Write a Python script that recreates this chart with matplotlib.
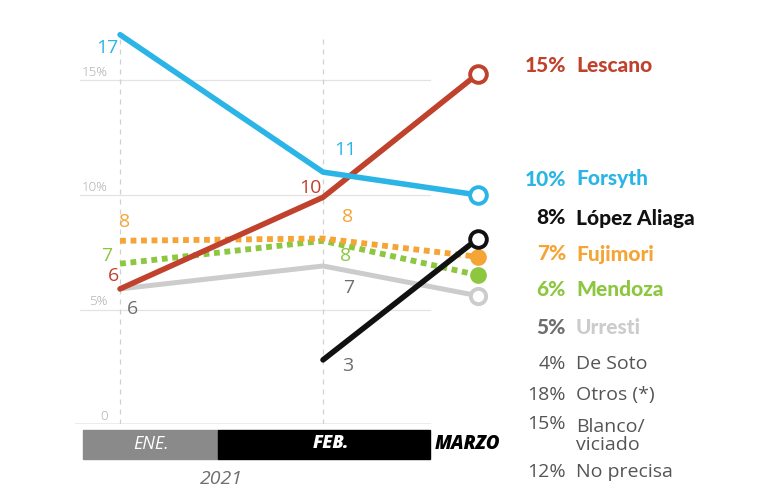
import matplotlib
matplotlib.use("Agg")
import matplotlib.pyplot as plt
from matplotlib.patches import Rectangle

W, H = 771, 499

# poll positions (ENE., FEB., MARZO) on a relative time axis
poll_x = [0.0, 1.0, 1.764]

forsyth = [17.0, 11.0, 10.0]
lescano = [5.9, 9.9, 15.3]
lopez_aliaga = [None, 2.8, 8.1]
fujimori = [8.0, 8.1, 7.3]
mendoza = [7.0, 8.0, 6.5]
urresti = [5.9, 6.9, 5.6]

# point labels shown on the chart
forsyth_lbl = ["17", "11", None]
lescano_lbl = ["6", "10", None]
lopez_lbl = [None, "3", None]
fujimori_lbl = ["8", "8", None]
mendoza_lbl = ["7", "8", None]
urresti_lbl = ["6", "7", None]

# final results list on the right
res_pct = ["15%", "10%", "8%", "7%", "6%", "5%", "4%", "18%", "15%", "12%"]
res_name = ["Lescano", "Forsyth", "López Aliaga", "Fujimori", "Mendoza", "Urresti",
            "De Soto", "Otros (*)", "Blanco/\nviciado", "No precisa"]

months = ["ENE.", "FEB.", "MARZO"]
year = "2021"
yticks = [0, 5, 10, 15]

BLUE = "#2bb5e6"
RED = "#c0412c"
BLACK = "#111111"
ORANGE = "#f5a436"
GREEN = "#8dc63f"
LGRAY = "#cccccc"
DGRAY = "#6e6e6e"


def fx(px):
    return px / W


def fy(py):
    return 1 - py / H


fig = plt.figure(figsize=(W / 100, H / 100), dpi=100)
fig.patch.set_facecolor("white")

# axes placed in pixel terms: x from 75 to 500, y from 20 to 424
ax = fig.add_axes([fx(75), fy(424), (500 - 75) / W, (424 - 20) / H])
ax.set_xlim(-0.222, 1.872)
ax.set_ylim(0, (424 - 20) / 22.9)
ax.axis("off")

# grid lines
xr = (430 - 120) / 203.0
for t in yticks[1:]:
    ax.plot([-0.197, xr], [t, t], color="#e3e3e3", lw=0.9, zorder=0)
    ax.text(-0.06, t + 0.05, f"{t}%", color="#a8a8a8", fontsize=9.5, ha="right",
            va="bottom", family="Open Sans", fontweight="light")
ax.plot([-0.222, xr], [0, 0], color="#a0a0a0", lw=1.0, zorder=0)
ax.text(-0.06, 0.05, "0", color="#a8a8a8", fontsize=9.5, ha="right", va="bottom",
        family="Open Sans", fontweight="light")
for xv in poll_x[:2]:
    ax.plot([xv, xv], [0, 16.9], color="#d0d0d0", lw=0.9, ls=(0, (4, 4)), zorder=0)

# lines
ax.plot(poll_x, urresti, color=LGRAY, lw=3.6, solid_capstyle="round", zorder=2)
ax.plot(poll_x, mendoza, color=GREEN, lw=4.2, ls=(0, (1.0, 0.8)), zorder=3)
ax.plot(poll_x, fujimori, color=ORANGE, lw=4.2, ls=(0, (1.0, 0.8)), zorder=3)
ax.plot(poll_x[1:], lopez_aliaga[1:], color=BLACK, lw=4.0, solid_capstyle="round", zorder=5)
ax.plot(poll_x, lescano, color=RED, lw=4.0, solid_capstyle="round", zorder=4)
ax.plot(poll_x, forsyth, color=BLUE, lw=4.0, solid_capstyle="round", zorder=4)

# end markers
ax.plot(poll_x[-1], urresti[-1], "o", ms=11, mfc="white", mec=LGRAY, mew=2.8, zorder=6)
ax.plot(poll_x[-1], mendoza[-1], "o", ms=11, mfc=GREEN, mec=GREEN, zorder=6)
ax.plot(poll_x[-1], fujimori[-1], "o", ms=11, mfc=ORANGE, mec=ORANGE, zorder=6)
ax.plot(poll_x[-1], lopez_aliaga[-1], "o", ms=12, mfc="white", mec=BLACK, mew=2.8, zorder=7)
ax.plot(poll_x[-1], forsyth[-1], "o", ms=12, mfc="white", mec=BLUE, mew=2.8, zorder=7)
ax.plot(poll_x[-1], lescano[-1], "o", ms=12, mfc="white", mec=RED, mew=2.8, zorder=7)

# point labels (pixel offsets)
lab_kw = dict(fontsize=14, family="Open Sans", ha="center", va="center", zorder=8)
ax.annotate(forsyth_lbl[0], (poll_x[0], forsyth[0]), xytext=(-13, -13),
            textcoords="offset pixels", color=BLUE, **lab_kw)
ax.annotate(forsyth_lbl[1], (poll_x[1], forsyth[1]), xytext=(22, 22),
            textcoords="offset pixels", color=BLUE, **lab_kw)
ax.annotate(lescano_lbl[0], (poll_x[0], lescano[0]), xytext=(-7, 13),
            textcoords="offset pixels", color=RED, **lab_kw)
ax.annotate(lescano_lbl[1], (poll_x[1], lescano[1]), xytext=(-13, 9),
            textcoords="offset pixels", color=RED, **lab_kw)
ax.annotate(lopez_lbl[1], (poll_x[1], lopez_aliaga[1]), xytext=(25, -6),
            textcoords="offset pixels", color=DGRAY, **lab_kw)
ax.annotate(fujimori_lbl[0], (poll_x[0], fujimori[0]), xytext=(5, 19),
            textcoords="offset pixels", color=ORANGE, **lab_kw)
ax.annotate(fujimori_lbl[1], (poll_x[1], fujimori[1]), xytext=(25, 22),
            textcoords="offset pixels", color=ORANGE, **lab_kw)
ax.annotate(mendoza_lbl[0], (poll_x[0], mendoza[0]), xytext=(-13, 8),
            textcoords="offset pixels", color=GREEN, **lab_kw)
ax.annotate(mendoza_lbl[1], (poll_x[1], mendoza[1]), xytext=(23, -15),
            textcoords="offset pixels", color=GREEN, **lab_kw)
ax.annotate(urresti_lbl[0], (poll_x[0], urresti[0]), xytext=(12, -20),
            textcoords="offset pixels", color=DGRAY, **lab_kw)
ax.annotate(urresti_lbl[1], (poll_x[1], urresti[1]), xytext=(26, -22),
            textcoords="offset pixels", color=DGRAY, **lab_kw)

# month band
fig.patches.append(Rectangle((fx(83), fy(459)), (218 - 83) / W, (459 - 430) / H,
                             transform=fig.transFigure, color="#8a8a8a", zorder=1))
fig.patches.append(Rectangle((fx(218), fy(459)), (430 - 218) / W, (459 - 430) / H,
                             transform=fig.transFigure, color="black", zorder=1))
fig.text(fx(151), fy(444), months[0], color="white", fontsize=13, style="italic",
         family="Open Sans", ha="center", va="center")
fig.text(fx(331), fy(444), months[1], color="white", fontsize=13, style="italic",
         fontweight="heavy", family="Open Sans", ha="center", va="center")
fig.text(fx(468), fy(444), months[2], color="black", fontsize=13.5, style="italic",
         fontweight="heavy", family="Open Sans", ha="center", va="center")
fig.text(fx(221), fy(479), year, color="#6e6e6e", fontsize=14, style="italic",
         family="Open Sans", ha="center", va="center")

# results list
res_y = [65, 179, 218, 254, 290, 328, 364, 395, 435, 472]
pct_col = [RED, BLUE, BLACK, ORANGE, GREEN, DGRAY, "#555555", "#555555", "#555555", "#555555"]
name_col = [RED, BLUE, BLACK, ORANGE, GREEN, LGRAY, "#555555", "#555555", "#555555", "#555555"]
for i, (p, n) in enumerate(zip(res_pct, res_name)):
    bold = i < 6
    if bold:
        kw = dict(fontsize=15, va="center", family="Lato", fontweight="black")
    else:
        kw = dict(fontsize=14, va="center", family="Open Sans", fontweight="normal",
                  linespacing=1.05)
    py = res_y[i]
    if "\n" in n:
        fig.text(fx(566), fy(424), p, color=pct_col[i], ha="right", **kw)
        fig.text(fx(576), fy(436), n, color=name_col[i], ha="left", **kw)
    else:
        fig.text(fx(566), fy(py), p, color=pct_col[i], ha="right", **kw)
        fig.text(fx(576), fy(py), n, color=name_col[i], ha="left", **kw)

fig.savefig("out.png", dpi=100, facecolor="white")
